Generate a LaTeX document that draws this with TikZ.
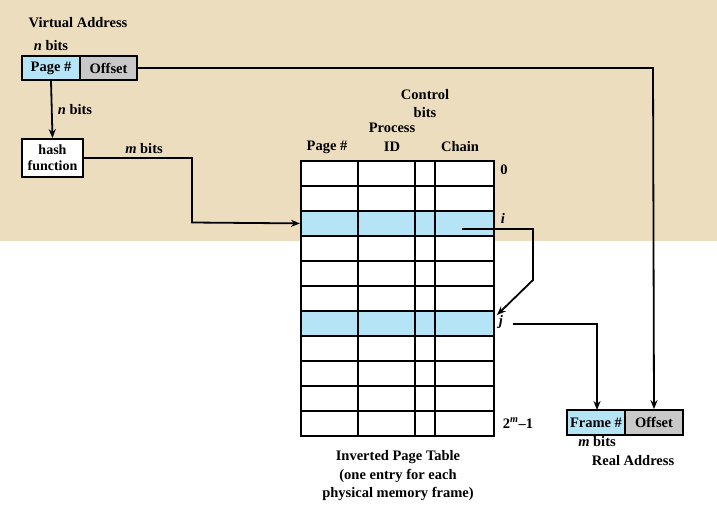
\documentclass[tikz,border=0pt]{standalone}
\usepackage{fontspec}
\setmainfont{Liberation Serif}[BoldFont={Liberation Serif Bold}, ItalicFont={Liberation Serif Italic}, BoldItalicFont={Liberation Serif Bold Italic}]
\usetikzlibrary{arrows.meta}
\definecolor{parch}{RGB}{237,221,191}
\definecolor{lblue}{RGB}{180,228,246}
\definecolor{lgrey}{RGB}{200,200,200}
\begin{document}
\begin{tikzpicture}[x=1pt,y=-1pt,
  every node/.style={font=\fontsize{14.5}{17}\selectfont\bfseries, inner sep=0pt},
  fld/.style={draw, line width=1.8pt, minimum height=24pt},
  rowbox/.style={draw, line width=1.8pt, minimum width=193pt, minimum height=25pt, anchor=north west},
  arr/.style={line width=1.8pt, -{Stealth[length=9pt,width=7pt]}},
  lbl/.style={}]
\useasboundingbox (0,0) rectangle (717,519);
\fill[parch] (0,0) rectangle (717,241);
% virtual address
\node[lbl] (va) at (78,23) {Virtual Address};
\node[lbl] (vabits) at (51,46) {\textit{n} bits};
\node[fld, fill=lblue, minimum width=58pt] (pg) at (51,68) {Page \#};
\node[fld, fill=lgrey, minimum width=57pt] (off) at (108.5,68) {Offset};
% hash
\node[fld, fill=white, minimum width=61pt, minimum height=38pt, align=center, font=\fontsize{14}{16}\selectfont\bfseries] (hash) at (52.5,158) {hash\\function};
\node[lbl] (nb) at (75,110) {\textit{n} bits};
\node[lbl] (mb) at (144,149) {\textit{m} bits};
% table rows
\foreach \k in {0,...,10}{
  \pgfmathsetmacro{\yy}{160+25*\k}
  \ifnum\k=2 \def\fc{lblue}\else\ifnum\k=6 \def\fc{lblue}\else\def\fc{white}\fi\fi
  \node[rowbox, fill=\fc] (r\k) at (300,\yy) {};
}
\foreach \xx in {358,415,435}{
  \draw[line width=1.8pt] (\xx,160) -- (\xx,435);
}
% headers
\node (hpg) at (327,147) {Page \#};
\node (hproc) at (392,128) {Process};
\node (hid) at (392,147) {ID};
\node (hctl) at (425,95) {Control};
\node (hbits) at (425,113) {bits};
\node (hch) at (460,147) {Chain};
% row labels
\node (l0) at (504,170) {0};
\node (li) at (503,218) {\textit{i}};
\node (lj) at (501,322) {\textit{j}};
\node (lm) at (518,423) {2\textsuperscript{\textit{m}}--1};
% caption
\node[align=center, font=\fontsize{14.5}{18.5}\selectfont\bfseries] (cap) at (398,476) {Inverted Page Table\\(one entry for each\\physical memory frame)};
% real address
\node[fld, fill=lblue, minimum width=58pt, minimum height=25pt] (fr) at (596,422.5) {Frame \#};
\node[fld, fill=lgrey, minimum width=58pt, minimum height=25pt] (ro) at (654,422.5) {Offset};
\node (rmb) at (597,442) {\textit{m} bits};
\node (ra) at (633,461) {Real Address};
% connectors
\draw[arr] (pg.south) -- (hash.north);
\draw[arr] (hash.east) -- (192,158) -- (192,222.5) -- (r2.west);
\draw[arr] (off.east) -- (653,68) -- (ro.north);
\coordinate (cs) at (462,229);
\coordinate (jt) at (497,315);
\draw[arr] (cs) -- (533,229) -- (533,280) -- (jt);
\coordinate (js) at (513,324);
\draw[arr] (js) -- (597,324) -- (597,410);
\end{tikzpicture}
\end{document}
